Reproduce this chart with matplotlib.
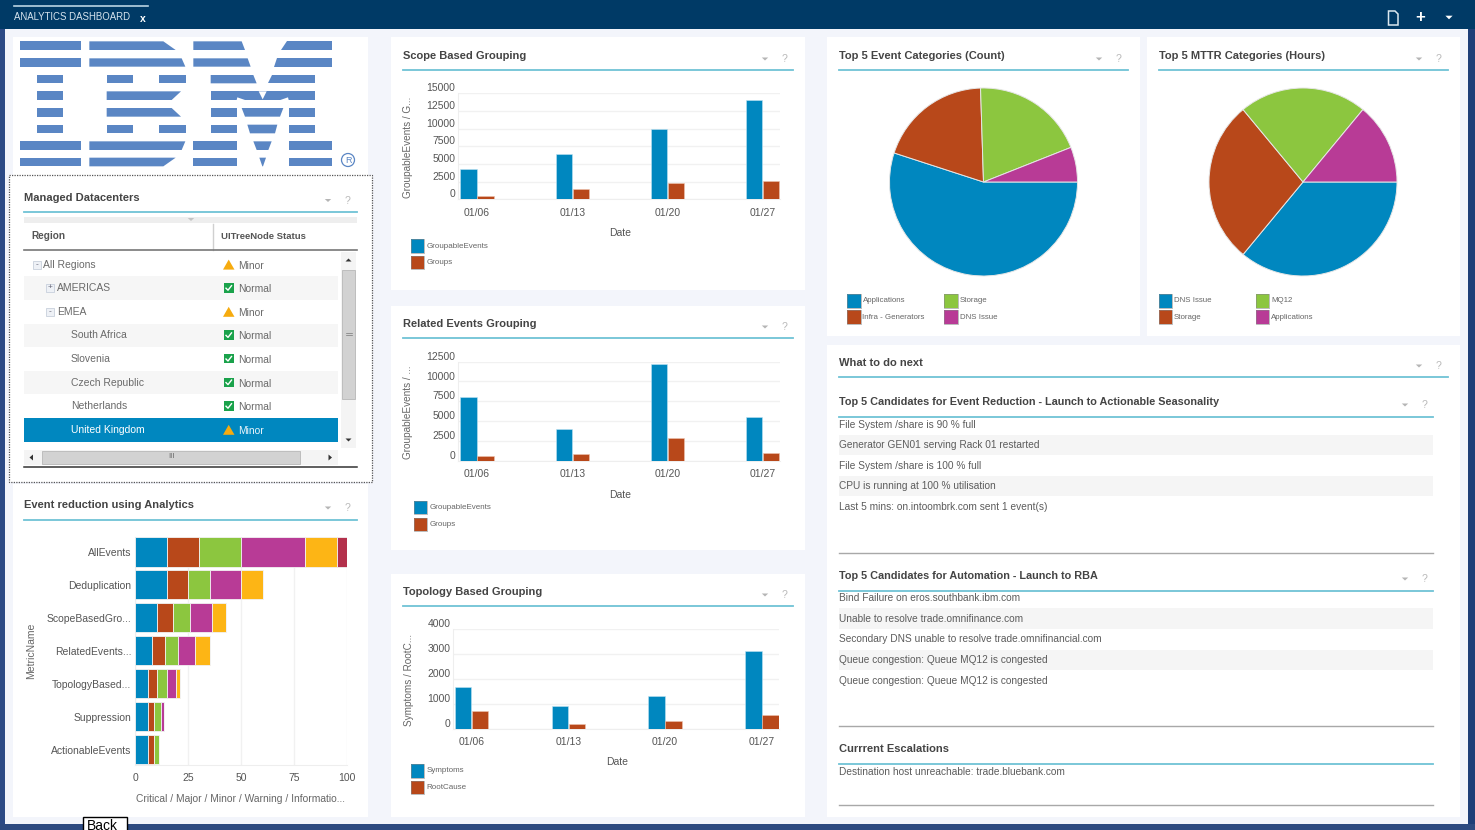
import matplotlib
matplotlib.use("Agg")
import matplotlib.pyplot as plt
from matplotlib.patches import Rectangle, Polygon, Circle

W, H = 1475, 830
plt.rcParams['font.family'] = ['Liberation Sans', 'DejaVu Sans']

BLUE, ORANGE, GREEN, MAGENTA, YELLOW, CRIMSON = '#0087bf', '#b8481a', '#8cc63f', '#b83b96', '#fdb515', '#b3304b'
TXT, TITLE, LINE, GRID = '#5a5a5a', '#444444', '#6fc3d6', '#f1f1f1'

# ---- data ----
dates = ['01/06', '01/13', '01/20', '01/27']
scope_events = [4350, 6350, 10000, 14050]
scope_groups = [400, 1400, 2350, 2600]
related_events = [8000, 3950, 12200, 5500]
related_groups = [630, 840, 2820, 1010]
topo_symptoms = [1690, 925, 1315, 3130]
topo_rootcause = [700, 200, 320, 565]

metrics = ['AllEvents', 'Deduplication', 'ScopeBasedGro...', 'RelatedEvents...',
           'TopologyBased...', 'Suppression', 'ActionableEvents']
critical = [15, 15, 10, 8, 6, 6, 6]
major = [15, 10, 8, 6, 4, 3, 3]
minor = [20, 10, 8, 6, 5, 3, 2]
warning = [30, 15, 10, 8, 4, 1.5, 0]
information = [15, 10, 7, 7, 2, 0, 0]
other = [5, 0, 0, 0, 0, 0, 0]

pie1_labels = ['Applications', 'Infra - Generators', 'Storage', 'DNS Issue']
pie1_values = [55, 19.5, 19.5, 6]
pie2_labels = ['DNS Issue', 'Storage', 'MQ12', 'Applications']
pie2_values = [36, 28, 22, 14]

regions = ['All Regions', 'AMERICAS', 'EMEA', 'South Africa', 'Slovenia',
           'Czech Republic', 'Netherlands', 'United Kingdom']
region_status = ['Minor', 'Normal', 'Minor', 'Normal', 'Normal', 'Normal', 'Normal', 'Minor']
reduction_items = ['File System /share is 90 % full', 'Generator GEN01 serving Rack 01 restarted',
                   'File System /share is 100 % full', 'CPU is running at 100 % utilisation',
                   'Last 5 mins: on.intoombrk.com sent 1 event(s)']
automation_items = ['Bind Failure on eros.southbank.ibm.com', 'Unable to resolve trade.omnifinance.com',
                    'Secondary DNS unable to resolve trade.omnifinancial.com',
                    'Queue congestion: Queue MQ12 is congested', 'Queue congestion: Queue MQ12 is congested']
escalation_items = ['Destination host unreachable: trade.bluebank.com']

# ---- page ----
fig = plt.figure(figsize=(W / 100, H / 100), dpi=100, facecolor='#f3f5fb')
bg = fig.add_axes([0, 0, 1, 1], zorder=0)
bg.set_xlim(0, W); bg.set_ylim(H, 0); bg.axis('off')


def rect(x0, y0, x1, y1, color, z=1, **kw):
    bg.add_patch(Rectangle((x0, y0), x1 - x0, y1 - y0, facecolor=color, edgecolor='none', zorder=z, **kw))


def txt(x, y, s, size=7, color=TXT, weight='normal', ha='left', z=5, **kw):
    bg.text(x, y, s, fontsize=size, color=color, fontweight=weight, ha=ha, va='center', zorder=z, **kw)


def tri(x, y, color='#b5b5b5', w=3.2, h=3):
    bg.add_patch(Polygon([(x - w, y - h / 2), (x + w, y - h / 2), (x, y + h / 2)], facecolor=color, edgecolor='none', zorder=5))


def panel_head(x0, x1, ty, title, liney, trix=None, size=8):
    txt(x0, ty + 1, title, size=size, color=TITLE, weight='bold')
    bg.plot([x0, x1], [liney, liney], color=LINE, lw=1.3, zorder=4)
    if trix is not None:
        tri(trix, ty + 4)
        txt(trix + 19, ty + 4, '?', size=7.5, color='#b8b8b8', ha='center')


# outer frame
rect(0, 0, 5, H, '#2c4a85')
rect(1468, 0, W, H, '#1f3f78')
rect(0, 823.5, W, H, '#2d4a80')
rect(0, 0, W, 29, '#003a66')
# white panels
for box in [(13, 37, 368, 175), (13, 484, 368, 817), (391, 37, 805, 290), (391, 306, 805, 550),
            (391, 574, 805, 817), (827, 37, 1140, 336), (1147, 37, 1460, 336), (827, 345, 1460, 817)]:
    rect(*box, 'white')
rect(9, 175, 372, 482, 'white')
bg.add_patch(Rectangle((9, 175), 363, 307, fill=False, edgecolor='#555555', lw=0.9, ls=(0, (1, 1)), zorder=4))

# header bar
bg.plot([14, 148], [6, 6], color='#b9d3e2', lw=1.2, zorder=4)
txt(14, 17, 'ANALYTICS DASHBOARD', size=6.9, color='#d7e4ee')
txt(143, 18.5, 'x', size=7.5, color='white', weight='bold', ha='center')
bg.add_patch(Polygon([(1388.5, 11), (1395, 11), (1398, 14), (1398, 25), (1388.5, 25)], fill=False, edgecolor='#dbe8f0', lw=1.1, zorder=5))
txt(1420, 17.5, '+', size=12, color='white', weight='bold', ha='center')
tri(1449, 17.5, color='white', w=3.6, h=3.6)

# IBM logo (decorative drawing, zoom coordinates / 3)
LOGO = '#5a86c4'
rows = [(124, 150), (175, 200), (225, 250), (274, 300), (324, 350), (374, 400), (424, 450), (473, 499)]
logo = {
    0: [(60, 60, 242, 242), (268, 268, 490, 527), (580, 580, 725, 735), (860, 842, 996, 996)],
    1: [(60, 60, 242, 242), (268, 268, 545, 556), (580, 580, 743, 752), (832, 823, 996, 996)],
    2: [(112, 112, 190, 190), (320, 320, 398, 398), (476, 476, 558, 558), (632, 632, 760, 770), (815, 805, 944, 944)],
    3: [(112, 112, 190, 190), (320, 320, 543, 515), (632, 632, 944, 944)],
    4: [(112, 112, 190, 190), (320, 320, 515, 543), (632, 632, 710, 710), (725, 735, 850, 840), (866, 866, 944, 944)],
    5: [(112, 112, 190, 190), (320, 320, 398, 398), (476, 476, 558, 558), (632, 632, 710, 710), (742, 750, 832, 825), (866, 866, 944, 944)],
    6: [(60, 60, 242, 242), (268, 268, 556, 545), (580, 580, 710, 710), (760, 770, 815, 805), (866, 866, 996, 996)],
    7: [(60, 60, 242, 242), (268, 268, 527, 490), (580, 580, 710, 710), (778, 787, 798, 789), (866, 866, 996, 996)],
}
for r, shapes in logo.items():
    t, b = rows[r][0] / 3, rows[r][1] / 3
    for a, c, d, e in shapes:
        bg.add_patch(Polygon([(a / 3, t), (d / 3, t), (e / 3, b), (c / 3, b)], facecolor=LOGO, edgecolor='none', zorder=3))
bg.add_patch(Polygon([(776 / 3, 274 / 3), (800 / 3, 274 / 3), (788 / 3, 298 / 3)], facecolor='white', edgecolor='none', zorder=4))
bg.add_patch(Polygon([(710 / 3, 300 / 3), (735 / 3, 300 / 3), (712 / 3, 292 / 3)], facecolor='white', edgecolor='none', zorder=4))
bg.add_patch(Polygon([(866 / 3, 300 / 3), (841 / 3, 300 / 3), (864 / 3, 292 / 3)], facecolor='white', edgecolor='none', zorder=4))
bg.add_patch(Circle((348, 160), 6.5, fill=False, edgecolor=LOGO, lw=0.9, zorder=3))
txt(348, 160.3, 'R', size=6.5, color=LOGO, ha='center')

# ---- panel heads ----
panel_head(24, 357, 196.5, 'Managed Datacenters', 212, 328)
panel_head(24, 357, 504, 'Event reduction using Analytics', 520, 328)
panel_head(403, 793, 55, 'Scope Based Grouping', 70, 765)
panel_head(403, 793, 323, 'Related Events Grouping', 338, 765)
panel_head(403, 793, 591, 'Topology Based Grouping', 606, 765)
panel_head(839, 1128, 55, 'Top 5 Event Categories (Count)', 70, 1099)
panel_head(1159, 1448, 55, 'Top 5 MTTR Categories (Hours)', 70, 1419)
panel_head(839, 1448, 362, 'What to do next', 377, 1419)
panel_head(839, 1433, 401, 'Top 5 Candidates for Event Reduction - Launch to Actionable Seasonality', 417, 1405, size=7.85)
panel_head(839, 1433, 575, 'Top 5 Candidates for Automation - Launch to RBA', 591, 1405, size=7.85)
panel_head(839, 1433, 748, 'Currrent Escalations', 764)

# ---- datacenter table ----
rect(24, 217, 357, 222.5, '#eeeeee', z=2)
tri(191, 219.5, color='#c4c4c4')
txt(31, 236, 'Region', size=7.2, color='#555555', weight='bold')
txt(221, 236, 'UITreeNode Status', size=6.8, color='#555555', weight='bold')
bg.plot([213, 213], [224, 250], color='#d0d0d0', lw=1, zorder=4)
bg.plot([24, 357], [250.5, 250.5], color='#777777', lw=1.2, zorder=4)
row_h = 23.6
indents = [43, 57, 57, 71, 71, 71, 71, 71]
for i, (reg, st) in enumerate(zip(regions, region_status)):
    yc = 264.6 + i * row_h
    selected = reg == 'United Kingdom'
    if selected:
        rect(24, yc - 11.8, 338, yc + 11.8, BLUE, z=2)
    elif i % 2 == 1:
        rect(24, yc - 11.8, 338, yc + 11.8, '#f6f6f6', z=2)
    txt(indents[i], yc, reg, size=7.5, color='white' if selected else '#6a6a6a')
    txt(238, yc + 1, st, size=7.4, color='#e8f4fa' if selected else '#6a6a6a')
    if st == 'Minor':
        bg.add_patch(Polygon([(223, yc + 5), (234.5, yc + 5), (228.7, yc - 5)], facecolor='#f6ab0f', edgecolor='none', zorder=5))
    else:
        rect(224, yc - 5, 233.5, yc + 4.5, '#1aa24b', z=5)
        bg.plot([226, 228, 231.5], [yc, yc + 2, yc - 2.5], color='white', lw=1, zorder=6)
for ix, iy, sign in [(36.5, 264.6, '-'), (49.7, 288.2, '+'), (49.7, 311.8, '-')]:
    bg.add_patch(Rectangle((ix - 4, iy - 4), 8, 8, facecolor='#eef1f6', edgecolor='#c8d0dc', lw=0.6, zorder=5))
    txt(ix, iy - 0.3, sign, size=6, color='#667', ha='center')
# scrollbars
rect(341, 252, 356, 448, '#f4f4f4', z=2)
bg.add_patch(Rectangle((342, 269.5), 13, 129, facecolor='#d2d2d2', edgecolor='#b8b8b8', lw=0.6, zorder=3))
bg.plot([345.5, 351.5], [333, 333], color='#777', lw=0.5, zorder=4)
bg.plot([345.5, 351.5], [335, 335], color='#777', lw=0.5, zorder=4)
tri(348.5, 260, color='#333333', w=3, h=-3)
tri(348.5, 440, color='#333333', w=3, h=3)
rect(24, 450, 338, 465, '#f4f4f4', z=2)
bg.add_patch(Rectangle((42, 451), 258, 13, facecolor='#d2d2d2', edgecolor='#b8b8b8', lw=0.6, zorder=3))
txt(171, 456.5, 'III', size=5.5, color='#666', ha='center')
bg.add_patch(Polygon([(29.5, 457.5), (33, 454.5), (33, 460.5)], facecolor='#333', zorder=5))
bg.add_patch(Polygon([(332, 457.5), (328.5, 454.5), (328.5, 460.5)], facecolor='#333', zorder=5))
bg.plot([24, 357], [466.5, 466.5], color='#333333', lw=1.1, zorder=4)


# ---- lists ----
def list_rows(items, ys, x0=839, x1=1433, band=20.5):
    for i, (s, y) in enumerate(zip(items, ys)):
        if i % 2 == 1:
            rect(x0, y - band / 2, x1, y + band / 2, '#f5f5f5', z=2)
        txt(x0, y, s, size=7.3, color='#5c5c5c')


list_rows(reduction_items, [424.5, 445, 465.5, 486, 507])
list_rows(automation_items, [598, 618.5, 639, 660, 680.5])
list_rows(escalation_items, [772])
for yl in (552.5, 726, 805):
    bg.plot([839, 1433], [yl, yl], color='#a8a8a8', lw=1, zorder=4)


# ---- charts ----
def px_axes(x0, y0, x1, y1):
    ax = fig.add_axes([x0 / W, 1 - y1 / H, (x1 - x0) / W, (y1 - y0) / H], zorder=2)
    ax.patch.set_alpha(0)
    return ax


def grouped(box, first, step, s1, s2, ymax, ystep, ylabel, ylab_x, ylab_y, date_xy, ypad):
    x0, y0, x1, y1 = box
    ax = px_axes(*box)
    xs = list(range(len(dates)))
    bw = 16.3 / step
    off = 8.5 / step
    ax.bar([x - off for x in xs], s1, bw, color=BLUE, edgecolor='#bfe3f2', lw=0.4, zorder=3)
    ax.bar([x + off for x in xs], s2, bw, color=ORANGE, edgecolor='#eec5b0', lw=0.4, zorder=3)
    ax.set_xlim((x0 - first) / step, (x1 - first) / step)
    ax.set_ylim(0, ymax)
    ax.set_yticks(list(range(0, ymax + 1, ystep)))
    ax.set_xticks(xs, dates)
    ax.grid(axis='y', color=GRID, lw=1, zorder=0)
    for side in ('top', 'right'):
        ax.spines[side].set_visible(False)
    for side in ('left', 'bottom'):
        ax.spines[side].set_color('#eeeeee')
    ax.tick_params(axis='both', length=0, labelcolor='#555555')
    ax.tick_params(axis='y', labelsize=7.5, pad=2)
    ax.tick_params(axis='x', labelsize=7.5, pad=6)
    plt.setp(ax.get_yticklabels(), va='bottom')
    txt(ylab_x, ylab_y, ylabel, size=7.2, color='#666666', rotation=90, ha='center')
    txt(date_xy[0], date_xy[1], 'Date', size=7.5, color='#555555', ha='center')
    return ax


grouped((458.3, 93.3, 780, 199.3), 477, 95.2, scope_events, scope_groups, 15000, 2500,
        'GroupableEvents / G...', 408, 147, (620, 232.5), 2)
grouped((458.3, 361.7, 780, 460.7), 477, 95.2, related_events, related_groups, 12500, 2500,
        'GroupableEvents / ...', 408, 412, (620, 494.5), 2)
grouped((453.3, 629.3, 779, 728.7), 471.5, 96.8, topo_symptoms, topo_rootcause, 4000, 1000,
        'Symptoms / RootC...', 409, 680, (617, 761.5), 4)


def legend(entries, size=5.8):
    for x, y, color, label in entries:
        rect(x, y, x + 13.5, y + 13.5, color, z=4)
        bg.add_patch(Rectangle((x, y), 13.5, 13.5, fill=False, edgecolor='#888888', lw=0.4, zorder=5))
        txt(x + 15.5, y + 6.8, label, size=size, color='#666666')


legend([(410.7, 239.3, BLUE, 'GroupableEvents'), (410.7, 255.7, ORANGE, 'Groups')])
legend([(413.7, 500.7, BLUE, 'GroupableEvents'), (413.7, 517.7, ORANGE, 'Groups')])
legend([(410.7, 764, BLUE, 'Symptoms'), (410.7, 780.5, ORANGE, 'RootCause')])

# pies
pie_colors = [BLUE, ORANGE, GREEN, MAGENTA]
for cx, vals in ((983.5, pie1_values), (1303, pie2_values)):
    ax = px_axes(cx - 94, 182 - 94, cx + 94, 182 + 94)
    ax.pie(vals, colors=pie_colors, startangle=0, counterclock=False, radius=1,
           wedgeprops=dict(edgecolor='#e6e6e6', linewidth=0.7))
    ax.set_xlim(-1, 1); ax.set_ylim(-1, 1)
legend([(847, 294, BLUE, pie1_labels[0]), (847, 310.3, ORANGE, pie1_labels[1]),
        (944, 294, GREEN, pie1_labels[2]), (944, 310.3, MAGENTA, pie1_labels[3])], size=5.7)
legend([(1158.6, 294, BLUE, pie2_labels[0]), (1158.6, 310.3, ORANGE, pie2_labels[1]),
        (1255.7, 294, GREEN, pie2_labels[2]), (1255.7, 310.3, MAGENTA, pie2_labels[3])], size=5.7)

# stacked bars
ax = px_axes(135.3, 536.5, 347.3, 765)
ys = list(range(len(metrics)))
left = [0] * len(metrics)
for series, color in zip((critical, major, minor, warning, information, other),
                         (BLUE, ORANGE, GREEN, MAGENTA, YELLOW, CRIMSON)):
    ax.barh(ys, series, 0.885, left=left, color=color, edgecolor='#f2f2f2', lw=0.6, zorder=3)
    left = [a + b for a, b in zip(left, series)]
ax.set_xlim(0, 100)
ax.set_ylim(6.47, -0.47)
ax.set_xticks([0, 25, 50, 75, 100])
ax.set_yticks(ys, metrics)
ax.grid(axis='x', color=GRID, lw=1, zorder=0)
for side in ('top', 'right'):
    ax.spines[side].set_visible(False)
for side in ('left', 'bottom'):
    ax.spines[side].set_color('#eeeeee')
ax.tick_params(axis='both', length=0, labelcolor='#555555')
ax.tick_params(axis='y', labelsize=7.5, pad=3)
ax.tick_params(axis='x', labelsize=7.5, pad=6)
txt(31, 651, 'MetricName', size=7.5, color='#666666', rotation=90, ha='center')
txt(241, 798.5, 'Critical / Major / Minor / Warning / Informatio...', size=7.4, color='#666666', ha='center')

# back button
bg.add_patch(Rectangle((83, 816.5), 44, 20, facecolor='white', edgecolor='black', lw=1, zorder=6))
txt(102.5, 825.5, 'Back', size=10, color='black', ha='center', z=7)

fig.savefig('out.png', dpi=100, facecolor=fig.get_facecolor())
